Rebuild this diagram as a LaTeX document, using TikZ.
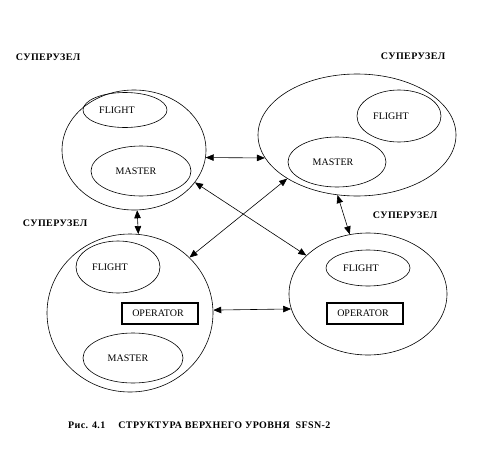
\documentclass[tikz,border=0pt]{standalone}
\usepackage{fontspec}
\setmainfont{Liberation Serif}
\newfontfamily\boldspaced[LetterSpace=4]{Liberation Serif}
\usetikzlibrary{shapes.geometric,arrows.meta}
\begin{document}
\begin{tikzpicture}[x=1pt,y=-1pt,
  big/.style={draw,ellipse,line width=0.6pt,inner sep=0pt},
  small/.style={draw,ellipse,line width=0.6pt,inner sep=0pt,font=\fontsize{10}{12}\selectfont},
  opbox/.style={draw,line width=1.8pt,minimum width=76pt,minimum height=21pt,inner sep=0pt,font=\fontsize{10}{12}\selectfont},
  lbl/.style={font=\boldspaced\bfseries\fontsize{10}{12}\selectfont,inner sep=0pt},
  link/.style={line width=0.6pt,{Triangle[length=8pt,width=6.5pt]}-{Triangle[length=8pt,width=6.5pt]}}]
\useasboundingbox (0,0) rectangle (480,461);
% big ellipses
\node[big,minimum width=144pt,minimum height=120pt] (tl) at (134,150) {};
\node[big,minimum width=198pt,minimum height=122pt] (tr) at (357,135) {};
\node[big,minimum width=166pt,minimum height=158pt] (bl) at (130,313) {};
\node[big,minimum width=158pt,minimum height=122pt] (br) at (368,294) {};
% inner parts
\node[small,minimum width=84pt,minimum height=35pt] (tlf) at (125,110) {FLIGHT\kern16pt};
\node[small,minimum width=100pt,minimum height=50pt] (tlm) at (141,171) {MASTER\kern10pt};
\node[small,minimum width=84pt,minimum height=52pt] (trf) at (399,116) {FLIGHT\kern16pt};
\node[small,minimum width=98pt,minimum height=50pt] (trm) at (337,162) {MASTER\kern8pt};
\node[small,minimum width=84pt,minimum height=52pt] (blf) at (118,267) {FLIGHT\kern16pt};
\node[opbox] (blo) at (160,313.5) {OPERATOR\kern4pt};
\node[small,minimum width=100pt,minimum height=50pt] (blm) at (133,358) {MASTER\kern10pt};
\node[small,minimum width=84pt,minimum height=36pt] (brf) at (368,268) {FLIGHT\kern14pt};
\node[opbox] (bro) at (365,313.5) {OPERATOR\kern4pt};
% labels
\node[lbl] (ltl) at (48,57) {СУПЕРУЗЕЛ};
\node[lbl] (ltr) at (413,56) {СУПЕРУЗЕЛ};
\node[lbl] (lbl) at (55,223) {СУПЕРУЗЕЛ};
\node[lbl] (lbr) at (405,215) {СУПЕРУЗЕЛ};
\node[lbl,anchor=west] (cap) at (68,425) {Рис. 4.1\hspace{13pt}СТРУКТУРА ВЕРХНЕГО УРОВНЯ\ \ SFSN-2};
% links
\draw[link] (tl.-6.4) -- (tr.194.1);
\draw[link] (tl.-87.1) -- (bl.84.9);
\draw[link] (tl.-28.4) -- (br.148.2);
\draw[link] (bl.43) -- (tr.212);
\draw[link] (tr.252.4) -- (br.107);
\draw[link] (bl.2.8) -- (br.191.1);
\end{tikzpicture}
\end{document}
